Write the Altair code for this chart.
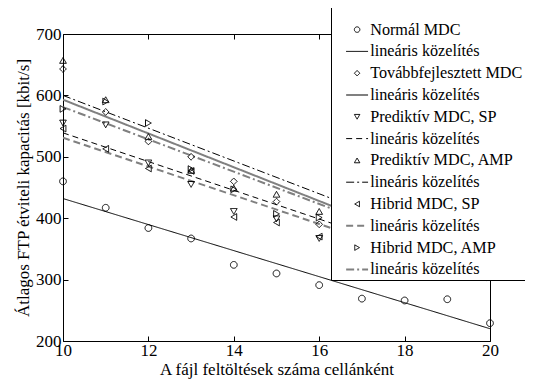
import altair as alt
import pandas as pd

# ---- data ----
x_long = [10, 11, 12, 13, 14, 15, 16, 17, 18, 19, 20]
normal = [460, 417, 384, 367, 324, 310, 291, 269, 266, 268, 229]
x_short = [10, 11, 12, 13, 14, 15, 16]
tovabb = [643, 573, 525, 500, 460, 427, 390]
pred_sp = [555, 552, 490, 455, 411, 399, 367]
pred_amp = [657, 593, 533, 478, 449, 439, 411]
hib_sp = [546, 513, 481, 477, 402, 393, 370]
hib_amp = [578, 590, 555, 480, 447, 407, 401]

fit_x = [10, 20]
fit_normal = [432, 220]
fit_tovabb = [593, 318]
fit_pred_sp = [539, 305]
fit_pred_amp = [600, 333]
fit_hib_sp = [531, 297]
fit_hib_amp = [581, 318]

entries = ["Normál MDC", "lin_1", "Továbbfejlesztett MDC", "lin_2",
           "Prediktív MDC, SP", "lin_3", "Prediktív MDC, AMP", "lin_4",
           "Hibrid MDC, SP", "lin_5", "Hibrid MDC, AMP", "lin_6"]

GRAY = "#808080"
LINE = "M-4,0H4"
colors = ["black", "black", "black", GRAY, "black", "black", "black", "black",
          "black", GRAY, "black", GRAY]
shapes = ["circle", LINE, "diamond", LINE, "triangle-down", LINE, "triangle-up", LINE,
          "triangle-left", LINE, "triangle-right", LINE]
dashes = [[1, 0], [1, 0], [1, 0], [1, 0], [1, 0], [6, 4], [1, 0], [8, 3, 2, 3],
          [1, 0], [7, 4], [1, 0], [8, 3, 2, 3]]
widths = [1, 1, 1, 2, 1, 1, 1, 1, 1, 2, 1, 2]

point_series = [(x_long, normal, entries[0]), (x_short, tovabb, entries[2]),
                (x_short, pred_sp, entries[4]), (x_short, pred_amp, entries[6]),
                (x_short, hib_sp, entries[8]), (x_short, hib_amp, entries[10])]
line_series = [(fit_normal, entries[1]), (fit_tovabb, entries[3]), (fit_pred_sp, entries[5]),
               (fit_pred_amp, entries[7]), (fit_hib_sp, entries[9]), (fit_hib_amp, entries[11])]

pts = pd.DataFrame([{"x": x, "y": y, "entry": e}
                    for xs, ys, e in point_series for x, y in zip(xs, ys)])
lns = pd.DataFrame([{"x": x, "y": y, "entry": e}
                    for ys, e in line_series for x, y in zip(fit_x, ys)])

FONT = "Liberation Serif, Times New Roman, serif"

legend = alt.Legend(
    title=" ", titleFontSize=2, titlePadding=10.5,
    orient="none", legendX=268, legendY=-27,
    labelExpr="indexof(datum.label, 'lin_') == 0 ? 'lineáris közelítés' : datum.label",
    labelFont=FONT, labelFontSize=16.2, labelColor="black",
    strokeColor="black", fillColor="white", padding=2,
    rowPadding=4.8, symbolSize=30, symbolOffset=16, labelOffset=5, labelLimit=400,
)

color_enc = alt.Color("entry:N", scale=alt.Scale(domain=entries, range=colors), legend=legend)
dash_enc = alt.StrokeDash("entry:N", scale=alt.Scale(domain=entries, range=dashes), legend=legend)
width_enc = alt.StrokeWidth("entry:N", scale=alt.Scale(type="ordinal", domain=entries, range=widths),
                            legend=legend)
shape_enc = alt.Shape("entry:N", scale=alt.Scale(domain=entries, range=shapes), legend=legend)

xscale = alt.Scale(domain=[10, 20], nice=False)
yscale = alt.Scale(domain=[200, 700], nice=False)

x_axis = alt.Axis(title="A fájl feltöltések száma cellánként", values=[10, 12, 14, 16, 18, 20],
                  offset=-5, labelPadding=1, titlePadding=3, labelFlush=False)
y_axis = alt.Axis(title="Átlagos FTP étviteli kapacitás [kbit/s]",
                  values=[200, 300, 400, 500, 600, 700], offset=-5, labelPadding=2,
                  titlePadding=3, labelFlush=False)

lines_layer = alt.Chart(lns).mark_line(clip=True).encode(
    x=alt.X("x:Q", scale=xscale, axis=None),
    y=alt.Y("y:Q", scale=yscale, axis=None),
    color=color_enc, strokeDash=dash_enc, strokeWidth=width_enc,
    detail="entry:N",
)

points_layer = alt.Chart(pts).mark_point(filled=False, size=45, opacity=1).encode(
    x=alt.X("x:Q", scale=xscale, axis=x_axis),
    y=alt.Y("y:Q", scale=yscale, axis=y_axis),
    color=color_enc, shape=shape_enc, strokeDash=dash_enc, strokeWidth=width_enc,
)

frame_layer = alt.Chart(pts).mark_point(opacity=0).encode(
    x=alt.X("x:Q", scale=xscale,
            axis=alt.Axis(orient="top", title=None, labels=False, offset=-5,
                          values=[10, 12, 14, 16, 18, 20])),
    y=alt.Y("y:Q", scale=yscale,
            axis=alt.Axis(orient="right", title=None, labels=False, offset=-5,
                          values=[200, 300, 400, 500, 600, 700])),
)

chart = alt.layer(lines_layer, points_layer, frame_layer).resolve_axis(
    x="independent", y="independent"
).properties(
    width=427, height=307,
    autosize=alt.AutoSizeParams(type="none"),
    padding={"left": 55, "top": 26, "right": 35, "bottom": 38},
).configure_view(
    stroke="black", strokeWidth=1
).configure_axis(
    domain=False, grid=False, tickColor="black", tickSize=5, tickWidth=1,
    labelFont=FONT, labelFontSize=17, labelColor="black",
    titleFont=FONT, titleFontSize=17, titleColor="black", titleFontWeight="normal",
)

chart.save("out.html", embed_options={"renderer": "svg", "actions": False})
